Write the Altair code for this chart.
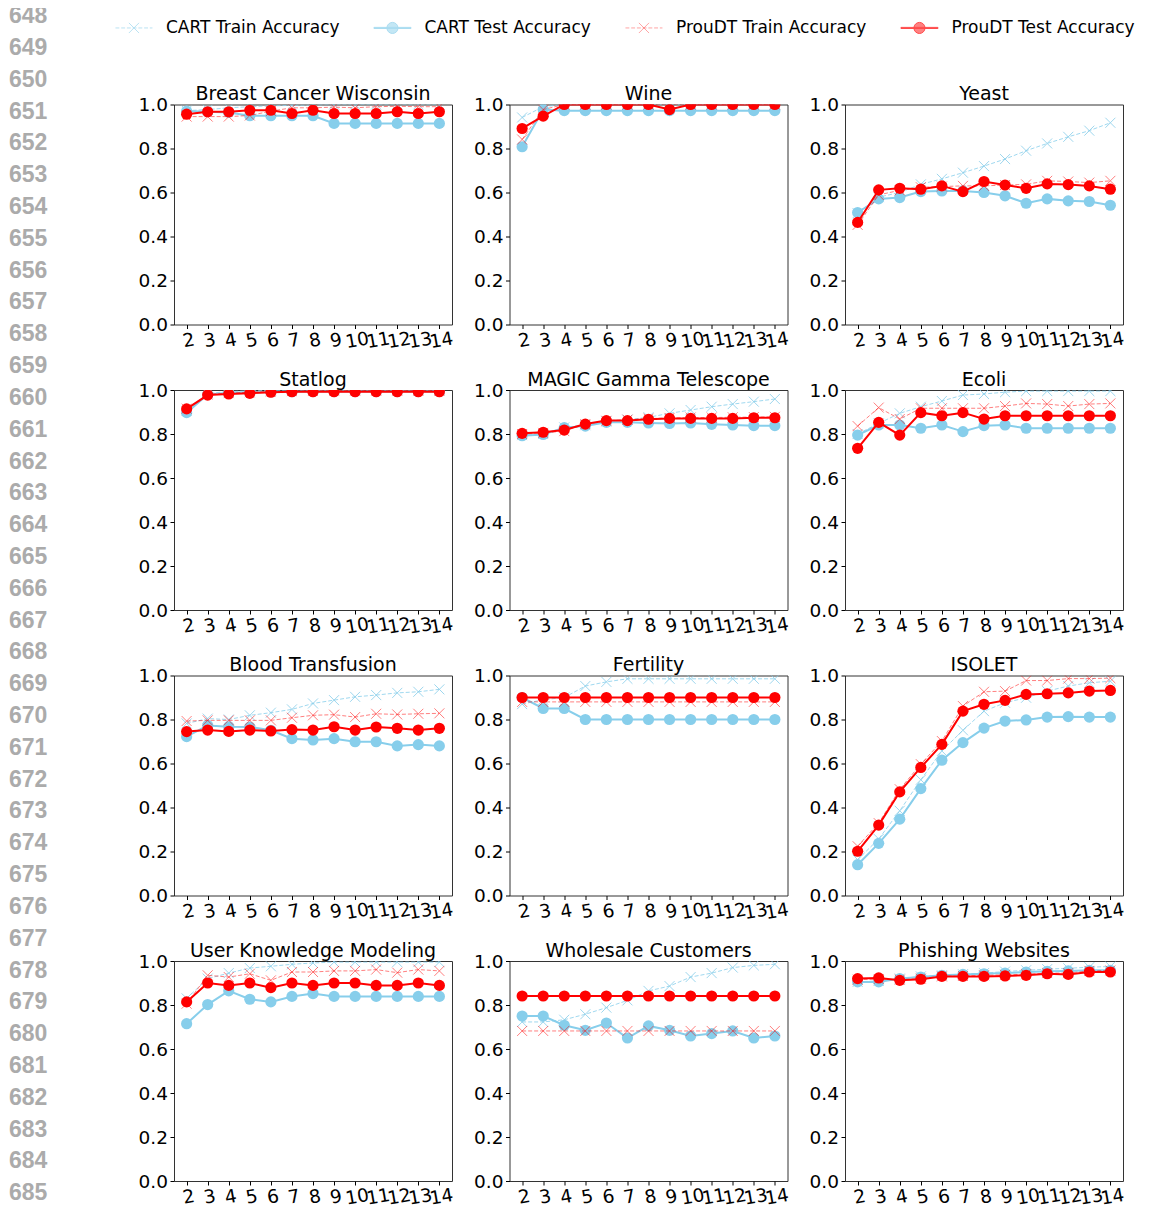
import altair as alt
import pandas as pd

FONT = "DejaVu Sans"

depths = list(range(2, 15))
series = ["CART Train Accuracy", "CART Test Accuracy", "ProuDT Train Accuracy", "ProuDT Test Accuracy"]
datasets = ["Breast Cancer Wisconsin", "Wine", "Yeast", "Statlog", "MAGIC Gamma Telescope", "Ecoli",
            "Blood Transfusion", "Fertility", "ISOLET", "User Knowledge Modeling", "Wholesale Customers",
            "Phishing Websites"]
line_numbers = list(range(648, 686))

# ---- values (depth 2..14) ----
bcw_cart_train = [0.972, 0.977, 0.985, 0.990, 0.994, 0.996, 0.998, 1.0, 1.0, 1.0, 1.0, 1.0, 1.0]
bcw_cart_test = [0.970, 0.967, 0.964, 0.949, 0.949, 0.949, 0.949, 0.914, 0.914, 0.914, 0.914, 0.914, 0.914]
bcw_proudt_train = [0.945, 0.945, 0.945, 0.950, 0.970, 0.985, 0.985, 0.988, 0.985, 0.990, 0.992, 0.990, 0.990]
bcw_proudt_test = [0.956, 0.967, 0.967, 0.974, 0.974, 0.959, 0.974, 0.959, 0.959, 0.959, 0.967, 0.959, 0.967]

wine_cart_train = [0.941, 0.990, 1.0, 1.0, 1.0, 1.0, 1.0, 1.0, 1.0, 1.0, 1.0, 1.0, 1.0]
wine_cart_test = [0.808, 0.977, 0.972, 0.972, 0.972, 0.972, 0.972, 0.972, 0.972, 0.972, 0.972, 0.972, 0.972]
wine_proudt_train = [0.841, 0.977, 1.0, 1.0, 1.0, 1.0, 1.0, 1.0, 1.0, 1.0, 1.0, 1.0, 1.0]
wine_proudt_test = [0.891, 0.947, 1.0, 1.0, 1.0, 1.0, 1.0, 0.977, 1.0, 1.0, 1.0, 1.0, 1.0]

yeast_cart_train = [0.506, 0.579, 0.600, 0.637, 0.662, 0.690, 0.720, 0.752, 0.790, 0.823, 0.853, 0.881, 0.917]
yeast_cart_test = [0.509, 0.571, 0.577, 0.604, 0.607, 0.607, 0.600, 0.585, 0.551, 0.571, 0.562, 0.559, 0.542]
yeast_proudt_train = [0.453, 0.589, 0.610, 0.624, 0.627, 0.630, 0.630, 0.634, 0.637, 0.653, 0.650, 0.645, 0.653]
yeast_proudt_test = [0.464, 0.612, 0.619, 0.615, 0.630, 0.604, 0.650, 0.634, 0.619, 0.639, 0.636, 0.630, 0.615]

statlog_cart_train = [0.905, 0.985, 0.993, 0.996, 0.998, 1.0, 1.0, 1.0, 1.0, 1.0, 1.0, 1.0, 1.0]
statlog_cart_test = [0.897, 0.980, 0.988, 0.990, 0.991, 0.992, 0.993, 0.993, 0.993, 0.993, 0.993, 0.993, 0.993]
statlog_proudt_train = [0.915, 0.980, 0.986, 0.990, 0.993, 0.995, 0.996, 0.997, 0.997, 0.997, 0.997, 0.997, 0.997]
statlog_proudt_test = [0.914, 0.977, 0.982, 0.985, 0.990, 0.992, 0.992, 0.992, 0.992, 0.992, 0.992, 0.992, 0.992]

magic_cart_train = [0.795, 0.800, 0.830, 0.840, 0.857, 0.865, 0.876, 0.894, 0.909, 0.924, 0.936, 0.947, 0.959]
magic_cart_test = [0.792, 0.798, 0.829, 0.836, 0.853, 0.853, 0.850, 0.848, 0.850, 0.844, 0.841, 0.838, 0.838]
magic_proudt_train = [0.800, 0.805, 0.813, 0.845, 0.860, 0.865, 0.870, 0.873, 0.875, 0.875, 0.876, 0.877, 0.878]
magic_proudt_test = [0.803, 0.808, 0.818, 0.845, 0.861, 0.861, 0.867, 0.871, 0.871, 0.871, 0.871, 0.874, 0.874]

ecoli_cart_train = [0.800, 0.848, 0.894, 0.924, 0.950, 0.977, 0.982, 0.990, 0.995, 0.995, 0.995, 0.995, 0.995]
ecoli_cart_test = [0.795, 0.841, 0.841, 0.826, 0.841, 0.811, 0.838, 0.841, 0.826, 0.826, 0.826, 0.826, 0.826]
ecoli_proudt_train = [0.836, 0.920, 0.868, 0.917, 0.917, 0.917, 0.917, 0.927, 0.939, 0.936, 0.927, 0.936, 0.939]
ecoli_proudt_test = [0.735, 0.853, 0.795, 0.897, 0.883, 0.897, 0.868, 0.883, 0.883, 0.883, 0.883, 0.883, 0.883]

blood_cart_train = [0.782, 0.804, 0.800, 0.819, 0.831, 0.846, 0.873, 0.888, 0.903, 0.911, 0.921, 0.926, 0.937]
blood_cart_test = [0.722, 0.773, 0.767, 0.766, 0.751, 0.713, 0.707, 0.713, 0.699, 0.699, 0.680, 0.686, 0.680]
blood_proudt_train = [0.793, 0.796, 0.796, 0.796, 0.796, 0.808, 0.819, 0.822, 0.811, 0.826, 0.823, 0.826, 0.828]
blood_proudt_test = [0.745, 0.752, 0.746, 0.752, 0.748, 0.754, 0.752, 0.767, 0.752, 0.766, 0.760, 0.752, 0.760]

fert_cart_train = [0.870, 0.890, 0.900, 0.952, 0.971, 0.985, 0.985, 0.985, 0.985, 0.985, 0.985, 0.985, 0.985]
fert_cart_test = [0.900, 0.850, 0.850, 0.800, 0.800, 0.800, 0.800, 0.800, 0.800, 0.800, 0.800, 0.800, 0.800]
fert_proudt_train = [0.880, 0.880, 0.880, 0.880, 0.880, 0.880, 0.880, 0.880, 0.880, 0.880, 0.880, 0.880, 0.880]
fert_proudt_test = [0.900, 0.900, 0.900, 0.900, 0.900, 0.900, 0.900, 0.900, 0.900, 0.900, 0.900, 0.900, 0.900]

isolet_cart_train = [0.163, 0.257, 0.385, 0.526, 0.657, 0.751, 0.838, 0.876, 0.899, 0.929, 0.952, 0.967, 0.974]
isolet_cart_test = [0.140, 0.237, 0.347, 0.486, 0.615, 0.695, 0.761, 0.793, 0.798, 0.811, 0.813, 0.811, 0.811]
isolet_proudt_train = [0.224, 0.329, 0.483, 0.597, 0.702, 0.861, 0.926, 0.929, 0.977, 0.977, 0.986, 0.986, 0.988]
isolet_proudt_test = [0.201, 0.320, 0.471, 0.582, 0.687, 0.838, 0.869, 0.887, 0.914, 0.917, 0.921, 0.929, 0.932]

ukm_cart_train = [0.830, 0.920, 0.945, 0.968, 0.976, 0.985, 0.991, 0.995, 0.995, 0.995, 0.995, 0.995, 0.995]
ukm_cart_test = [0.715, 0.802, 0.864, 0.826, 0.814, 0.839, 0.852, 0.839, 0.839, 0.839, 0.839, 0.839, 0.839]
ukm_proudt_train = [0.806, 0.935, 0.927, 0.942, 0.912, 0.950, 0.950, 0.955, 0.955, 0.961, 0.947, 0.961, 0.955]
ukm_proudt_test = [0.814, 0.900, 0.889, 0.900, 0.879, 0.900, 0.889, 0.900, 0.900, 0.889, 0.889, 0.900, 0.889]

whole_cart_train = [0.723, 0.723, 0.733, 0.758, 0.788, 0.821, 0.864, 0.886, 0.927, 0.945, 0.970, 0.980, 0.985]
whole_cart_test = [0.750, 0.750, 0.708, 0.685, 0.718, 0.650, 0.705, 0.685, 0.659, 0.670, 0.682, 0.650, 0.659]
whole_proudt_train = [0.682, 0.682, 0.682, 0.682, 0.682, 0.682, 0.682, 0.682, 0.682, 0.682, 0.682, 0.682, 0.682]
whole_proudt_test = [0.841, 0.841, 0.841, 0.841, 0.841, 0.841, 0.841, 0.841, 0.841, 0.841, 0.841, 0.841, 0.841]

phish_cart_train = [0.905, 0.910, 0.920, 0.930, 0.935, 0.940, 0.945, 0.952, 0.958, 0.963, 0.967, 0.972, 0.975]
phish_cart_test = [0.905, 0.905, 0.920, 0.927, 0.935, 0.939, 0.942, 0.945, 0.950, 0.953, 0.955, 0.958, 0.958]
phish_proudt_train = [0.915, 0.918, 0.915, 0.920, 0.930, 0.932, 0.935, 0.937, 0.940, 0.945, 0.945, 0.955, 0.957]
phish_proudt_test = [0.920, 0.923, 0.912, 0.917, 0.930, 0.930, 0.930, 0.932, 0.935, 0.942, 0.939, 0.950, 0.950]

values = {
    "Breast Cancer Wisconsin": [bcw_cart_train, bcw_cart_test, bcw_proudt_train, bcw_proudt_test],
    "Wine": [wine_cart_train, wine_cart_test, wine_proudt_train, wine_proudt_test],
    "Yeast": [yeast_cart_train, yeast_cart_test, yeast_proudt_train, yeast_proudt_test],
    "Statlog": [statlog_cart_train, statlog_cart_test, statlog_proudt_train, statlog_proudt_test],
    "MAGIC Gamma Telescope": [magic_cart_train, magic_cart_test, magic_proudt_train, magic_proudt_test],
    "Ecoli": [ecoli_cart_train, ecoli_cart_test, ecoli_proudt_train, ecoli_proudt_test],
    "Blood Transfusion": [blood_cart_train, blood_cart_test, blood_proudt_train, blood_proudt_test],
    "Fertility": [fert_cart_train, fert_cart_test, fert_proudt_train, fert_proudt_test],
    "ISOLET": [isolet_cart_train, isolet_cart_test, isolet_proudt_train, isolet_proudt_test],
    "User Knowledge Modeling": [ukm_cart_train, ukm_cart_test, ukm_proudt_train, ukm_proudt_test],
    "Wholesale Customers": [whole_cart_train, whole_cart_test, whole_proudt_train, whole_proudt_test],
    "Phishing Websites": [phish_cart_train, phish_cart_test, phish_proudt_train, phish_proudt_test],
}

rows_ = []
for ds in datasets:
    for s, vals in zip(series, values[ds]):
        for d, v in zip(depths, vals):
            rows_.append({"dataset": ds, "series": s, "depth": d, "acc": v})
df = pd.DataFrame(rows_)

# ---- styles ----
SKY = "#87CEEB"
RED = "#FF0000"
XPATH = "M-1,-1L1,1M-1,1L1,-1"
style = {
    "CART Train Accuracy": dict(color=SKY, op=0.8, width=1, dash=[4, 2], shape=XPATH, filled=False, size=100),
    "CART Test Accuracy": dict(color=SKY, op=1.0, width=2, dash=None, shape="circle", filled=True, size=125),
    "ProuDT Train Accuracy": dict(color=RED, op=0.5, width=1, dash=[4, 2], shape=XPATH, filled=False, size=100),
    "ProuDT Test Accuracy": dict(color=RED, op=1.0, width=2, dash=None, shape="circle", filled=True, size=125),
}

PW, PH = 278, 220
ORIGIN_X, ORIGIN_Y = 173.3, 104.3   # page position of the first plot area (for the annotations)

xenc = alt.X("depth:Q", scale=alt.Scale(domain=[1.4, 14.6], nice=False, zero=False),
             axis=alt.Axis(values=depths, format="d", title=None, labelOverlap=False, labelFlush=False,
                           labelAngle=350, labelAlign="center", labelBaseline="top"))
yenc = alt.Y("acc:Q", scale=alt.Scale(domain=[0, 1], nice=False, zero=False),
             axis=alt.Axis(values=[0, 0.2, 0.4, 0.6, 0.8, 1.0], format=".1f", title=None,
                           labelOverlap=False, labelFlush=False))


# ---- legend symbols (line + marker drawn as one path) ----
def dashed(x0, x1, dash, gap):
    segs = []
    x = x0
    while x < x1 - 1e-9:
        e = min(x + dash, x1)
        segs.append(f"M{x:.3f},0L{e:.3f},0")
        x = e + gap
    return "".join(segs)


XMARK = "M-0.55,-0.55L0.55,0.55M-0.55,0.55L0.55,-0.55"
CIRC = "M0.6,0A0.6,0.6 0 1,1 -0.6,0A0.6,0.6 0 1,1 0.6,0Z"
BAR = "M-2,-0.06L2,-0.06L2,0.06L-2,0.06Z"
train_path = dashed(-2, 2, 0.42, 0.2) + XMARK
test_path = BAR + CIRC
legend_paths = [train_path, test_path, train_path, test_path]
legend_strokes = ["rgba(135,206,235,0.8)", SKY, "rgba(255,0,0,0.5)", RED]
legend_fills = ["transparent", SKY, "transparent", RED]

leg = alt.Legend(title=None, orient="none", legendX=123.25 - ORIGIN_X, legendY=17.75 - ORIGIN_Y,
                 direction="horizontal", columns=4, columnPadding=31.5, labelFont=FONT, labelFontSize=17,
                 labelColor="black", symbolSize=342, symbolStrokeWidth=1, labelOffset=22, padding=0,
                 rowPadding=0, labelLimit=0)

legend_layer = alt.Chart(pd.DataFrame({"series": series})).transform_filter("false").mark_point(
    filled=False).encode(
    color=alt.Color("series:N", scale=alt.Scale(domain=series, range=legend_strokes), legend=leg),
    fill=alt.Fill("series:N", scale=alt.Scale(domain=series, range=legend_fills), legend=leg),
    shape=alt.Shape("series:N", scale=alt.Scale(domain=series, range=legend_paths), legend=leg),
)

# ---- page line numbers on the left margin ----
linenum_layer = alt.Chart(pd.DataFrame({"n": line_numbers})).mark_text(
    font="Liberation Sans Narrow, Liberation Sans, sans-serif", fontWeight="bold", fontSize=23,
    color="#ababab", align="center", baseline="middle"
).encode(
    y=alt.Y("n:Q", scale=alt.Scale(domain=[648, 685], range=[16 - ORIGIN_Y, 1193 - ORIGIN_Y],
                                   nice=False, zero=False), axis=None),
    x=alt.value(27.5 - ORIGIN_X),
    text="n:N",
)


def panel(name, extra=False):
    base = alt.Chart(df).transform_filter(alt.datum.dataset == name)
    layers = []
    for s in series:
        st = style[s]
        b = base.transform_filter(alt.datum.series == s)
        lkw = dict(color=st["color"], strokeWidth=st["width"], opacity=st["op"], clip=True)
        if st["dash"]:
            lkw["strokeDash"] = st["dash"]
        line = b.mark_line(**lkw).encode(x=xenc, y=yenc)
        pts = b.mark_point(shape=st["shape"], filled=st["filled"], size=st["size"], color=st["color"],
                           opacity=st["op"], strokeWidth=1, clip=True).encode(x=xenc, y=yenc)
        layers += [line, pts]
    title_layer = alt.Chart(pd.DataFrame({"title": [name]})).mark_text(
        font=FONT, fontSize=19, color="black", align="center", baseline="alphabetic"
    ).encode(text="title:N", x=alt.value(PW / 2), y=alt.value(-4.5))
    data_layer = alt.layer(*layers)
    if extra:
        ch = alt.layer(data_layer, title_layer, linenum_layer, legend_layer).resolve_scale(y="independent")
    else:
        ch = alt.layer(data_layer, title_layer)
    return ch.properties(
        width=PW, height=PH,
        view=alt.ViewBackground(stroke="#333333", strokeWidth=1),
    )


panels = [panel(ds, extra=(i == 0)) for i, ds in enumerate(datasets)]

chart = alt.concat(*panels, columns=3, spacing={"row": 65.5, "column": 57.5}, bounds="flush").properties(
    padding={"left": 0, "top": -3.5, "right": 0, "bottom": 0}, background="white"
).configure_view(
    stroke=None
).configure_axis(
    labelFont=FONT, labelFontSize=18.5, labelColor="black", tickColor="black", tickSize=4, tickWidth=1,
    labelPadding=2.5, domain=False, grid=False
)

chart.save("out.html", embed_options={"renderer": "svg", "actions": False})
